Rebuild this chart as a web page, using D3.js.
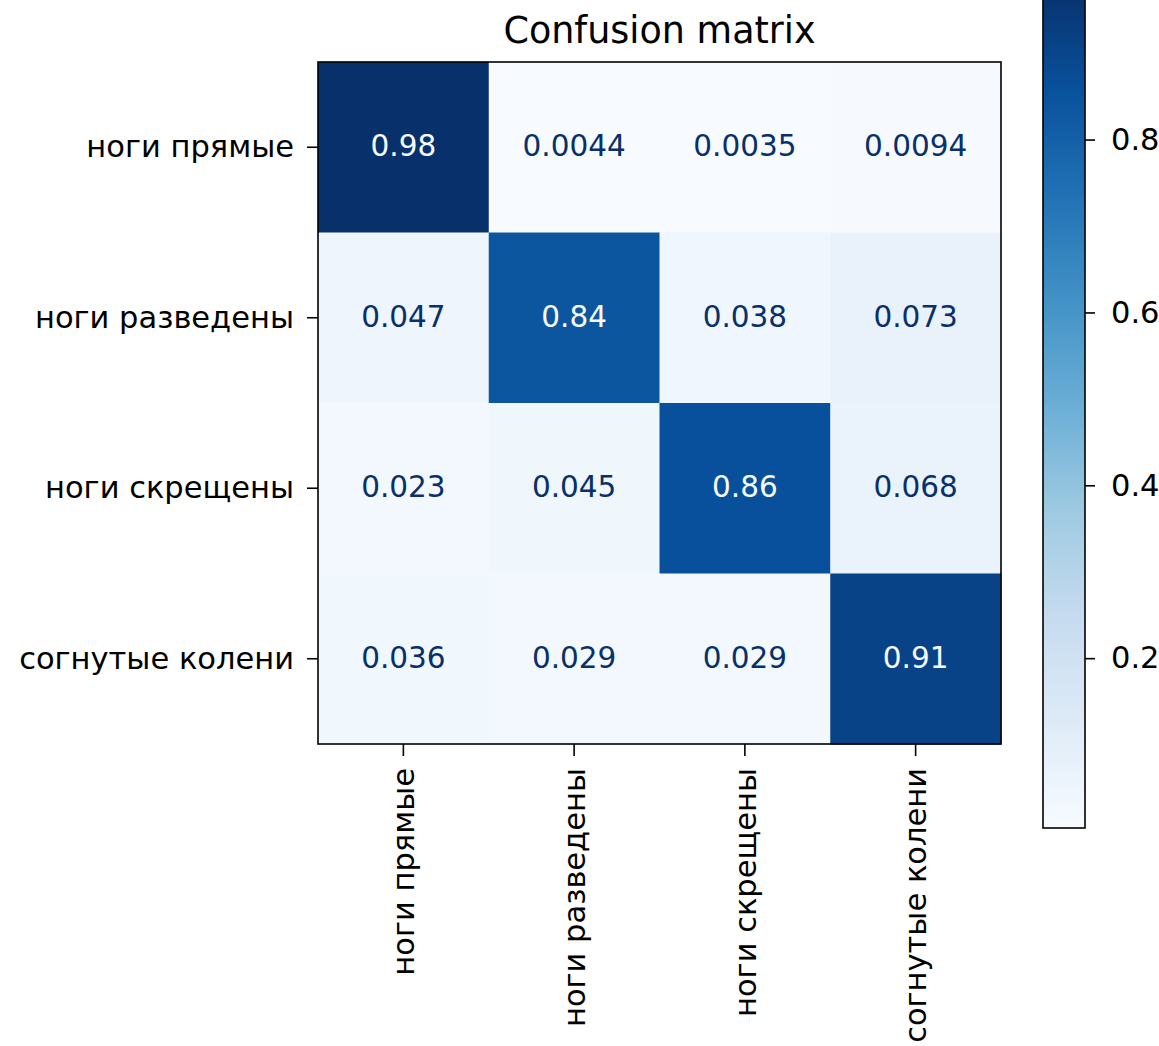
<!DOCTYPE html>
<html>
<head>
<meta charset="utf-8">
<script src="https://cdn.jsdelivr.net/npm/d3@7"></script>
<style>
  body { margin: 0; background: #ffffff; }
  text { font-family: "DejaVu Sans", sans-serif; }
</style>
</head>
<body>
<script>
const width = 1159
const height = 1046
const classes = ["ноги прямые", "ноги разведены", "ноги скрещены", "согнутые колени"]
const row_0 = [0.98, 0.0044, 0.0035, 0.0094]
const row_1 = [0.047, 0.84, 0.038, 0.073]
const row_2 = [0.023, 0.045, 0.86, 0.068]
const row_3 = [0.036, 0.029, 0.029, 0.91]
const matrix = [row_0, row_1, row_2, row_3]
const cbar_ticks = [0.2, 0.4, 0.6, 0.8]
const title = "Confusion matrix"

// matplotlib "Blues"
const blues = ["#f7fbff", "#deebf7", "#c6dbef", "#9ecae1", "#6baed6", "#4292c6", "#2171b5", "#08519c", "#08306b"]

const label_size = 30.5
const value_size = 29.5
const m_left = 318, m_right = 1001, m_top = 62, m_bottom = 744

var svg = d3.select("body").append("svg")
    .attr("width", width)
    .attr("height", height);

const all_vals = matrix.flat()
const vmin = d3.min(all_vals), vmax = d3.max(all_vals)
const thresh = (vmin + vmax) / 2

var color = d3.scaleLinear()
    .domain(d3.range(blues.length).map(i => vmin + (vmax - vmin) * i / (blues.length - 1)))
    .range(blues)
    .interpolate(d3.interpolateRgb);

var x = d3.scaleBand().domain(classes).range([m_left, m_right]);
var y = d3.scaleBand().domain(classes).range([m_top, m_bottom]);

var cells = [];
matrix.forEach((row, i) => row.forEach((v, j) => cells.push({ r: classes[i], c: classes[j], v: v })));

svg.selectAll("rect.cell").data(cells).enter().append("rect")
    .attr("class", "cell")
    .attr("x", d => x(d.c))
    .attr("y", d => y(d.r))
    .attr("width", x.bandwidth() + 0.5)
    .attr("height", y.bandwidth() + 0.5)
    .style("fill", d => color(d.v));

svg.selectAll("text.val").data(cells).enter().append("text")
    .attr("class", "val")
    .attr("x", d => x(d.c) + x.bandwidth() / 2)
    .attr("y", d => y(d.r) + y.bandwidth() / 2 - 1)
    .attr("text-anchor", "middle")
    .attr("dominant-baseline", "central")
    .style("font-size", value_size + "px")
    .style("fill", d => d.v < thresh ? blues[8] : blues[0])
    .text(d => d3.format(".2g")(d.v));

// axes
var yAxis = svg.append("g")
    .attr("transform", `translate(${m_left},0)`)
    .call(d3.axisLeft(y).tickSize(11).tickPadding(13));
yAxis.selectAll("text").style("font-size", label_size + "px").style("fill", "#000");

var xAxis = svg.append("g")
    .attr("transform", `translate(0,${m_bottom})`)
    .call(d3.axisBottom(x).tickSize(12).tickPadding(12));
xAxis.selectAll("text")
    .style("font-size", label_size + "px").style("fill", "#000")
    .attr("transform", "rotate(-90)")
    .attr("x", -24).attr("y", 0).attr("dy", "0.35em")
    .attr("text-anchor", "end");

svg.selectAll(".domain").remove();
svg.selectAll(".tick line").style("stroke", "#000").style("stroke-width", 1.6);

svg.append("rect")
    .attr("x", m_left).attr("y", m_top)
    .attr("width", m_right - m_left).attr("height", m_bottom - m_top)
    .style("fill", "none")
    .style("stroke", "#000")
    .style("stroke-width", 1.6);

svg.append("text")
    .attr("x", (m_left + m_right) / 2)
    .attr("y", 43)
    .attr("text-anchor", "middle")
    .style("font-size", "36.5px")
    .style("fill", "#000")
    .text(title);

// colorbar
const cb_left = 1043, cb_right = 1085, cb_bottom = 828, cb_top = -16
var cy = d3.scaleLinear().domain([vmin, vmax]).range([cb_bottom, cb_top]);

var grad = svg.append("defs").append("linearGradient")
    .attr("id", "cbar")
    .attr("x1", 0).attr("y1", 1).attr("x2", 0).attr("y2", 0);
grad.selectAll("stop").data(blues).enter().append("stop")
    .attr("offset", (d, i) => i / (blues.length - 1))
    .attr("stop-color", d => d);

svg.append("rect")
    .attr("x", cb_left).attr("y", cb_top)
    .attr("width", cb_right - cb_left).attr("height", cb_bottom - cb_top)
    .style("fill", "url(#cbar)")
    .style("stroke", "#000")
    .style("stroke-width", 1.6);

var cAxis = svg.append("g")
    .attr("transform", `translate(${cb_right},0)`)
    .call(d3.axisRight(cy).tickValues(cbar_ticks).tickFormat(d3.format(".1f")).tickSize(10).tickPadding(16));
cAxis.select(".domain").remove();
cAxis.selectAll("text").style("font-size", label_size + "px").style("fill", "#000");
cAxis.selectAll(".tick line").style("stroke", "#000").style("stroke-width", 1.6);
</script>
</body>
</html>
